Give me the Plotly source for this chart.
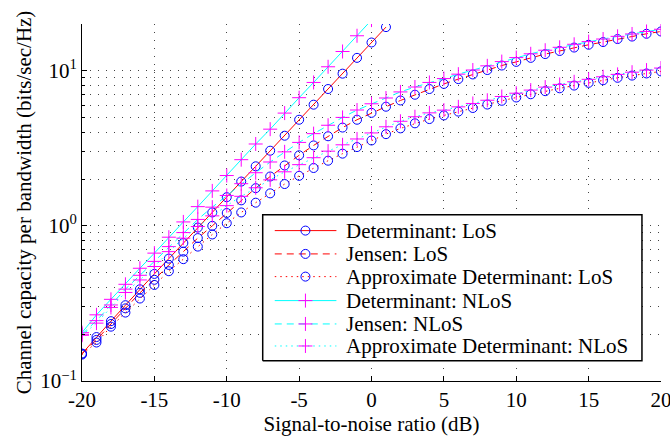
import plotly.graph_objects as go

snr_full = list(range(-20, 21))
snr_det_los = list(range(-20, 2))
snr_det_nlos = list(range(-20, 1))

det_los = [0.150, 0.192, 0.243, 0.308, 0.390, 0.490, 0.615, 0.775, 0.975, 1.22, 1.53,
           1.93, 2.42, 3.05, 3.81, 4.83, 6.04, 7.62, 9.57, 12.1, 15.2, 19.1]

jensen_los = [0.150, 0.184, 0.233, 0.294, 0.370, 0.449, 0.560, 0.682, 0.834, 1.00, 1.21,
              1.46, 1.75, 2.08, 2.45, 2.85, 3.30, 3.78, 4.30, 4.83, 5.35,
              5.86, 6.43, 7.00, 7.62, 8.22, 8.83, 9.46, 10.1, 10.8, 11.4,
              12.1, 12.8, 13.4, 14.1, 14.7, 15.3, 16.0, 16.6, 17.3, 17.9]

approx_los = [0.148, 0.177, 0.224, 0.276, 0.340, 0.416, 0.510, 0.610, 0.735, 0.880, 1.04,
              1.22, 1.41, 1.62, 1.86, 2.10, 2.36, 2.63, 2.92, 3.22, 3.55,
              3.90, 4.25, 4.58, 4.88, 5.15, 5.45, 5.75, 6.05, 6.40, 6.72,
              7.05, 7.38, 7.70, 8.02, 8.35, 8.68, 9.00, 9.30, 9.60, 9.90]

det_nlos = [0.205, 0.267, 0.336, 0.420, 0.533, 0.667, 0.845, 1.06, 1.33, 1.68, 2.11,
            2.67, 3.37, 4.20, 5.33, 6.70, 8.40, 10.6, 13.3, 16.8, 21.2]

jensen_nlos = [0.200, 0.245, 0.309, 0.391, 0.480, 0.590, 0.735, 0.905, 1.10, 1.32, 1.57,
               1.87, 2.20, 2.58, 3.00, 3.45, 3.93, 4.45, 5.00, 5.58, 6.12,
               6.67, 7.30, 7.85, 8.40, 8.90, 9.50, 10.1, 10.75, 11.45, 12.15,
               12.85, 13.55, 14.15, 14.8, 15.4, 16.0, 16.65, 17.25, 17.9, 18.5]

approx_nlos = [0.197, 0.236, 0.298, 0.372, 0.448, 0.547, 0.682, 0.833, 0.990, 1.16, 1.35,
               1.55, 1.76, 1.98, 2.23, 2.48, 2.75, 3.03, 3.33, 3.63, 3.97,
               4.35, 4.72, 5.05, 5.35, 5.57, 5.85, 6.15, 6.45, 6.82, 7.16,
               7.50, 7.84, 8.16, 8.48, 8.80, 9.14, 9.47, 9.78, 10.09, 10.40]

names = ["Determinant: LoS", "Jensen: LoS", "Approximate Determinant: LoS",
         "Determinant: NLoS", "Jensen: NLoS", "Approximate Determinant: NLoS"]

x_tickvals = [-20, -15, -10, -5, 0, 5, 10, 15, 20]
x_ticktext = ["-20", "-15", "-10", "-5", "0", "5", "10", "15", "20"]
y_tickvals = [0.1, 1, 10]
y_ticktext = ["10<sup>\u22121</sup>", "10<sup>0</sup>", "10<sup>1</sup>"]
y_minorvals = [0.2, 0.3, 0.4, 0.5, 0.6, 0.7, 0.8, 0.9,
               2, 3, 4, 5, 6, 7, 8, 9, 20]

FONT = "Liberation Serif"
RED = "#FF0000"
CYAN = "#00FFFF"
BLUE = "#0000FF"
MAG = "#FF00FF"
DASH = "7px,5px"
DOT = "1.5px,4px"

series = [
    (snr_det_los, det_los, RED, "solid", "circle-open", BLUE),
    (snr_full, jensen_los, RED, DASH, "circle-open", BLUE),
    (snr_full, approx_los, RED, DOT, "circle-open", BLUE),
    (snr_det_nlos, det_nlos, CYAN, "solid", "cross-thin-open", MAG),
    (snr_full, jensen_nlos, CYAN, DASH, "cross-thin-open", MAG),
    (snr_full, approx_nlos, CYAN, DOT, "cross-thin-open", MAG),
]

def marker_of(sym, mc):
    return dict(symbol=sym, size=9 if sym.startswith("circle") else 10,
                color=mc, line=dict(color=mc, width=1))

fig = go.Figure()
for name, (xs, ys, lc, dash, sym, mc) in zip(names, series):
    fig.add_trace(go.Scatter(
        x=xs, y=ys, name=name, mode="lines+markers", showlegend=False,
        line=dict(color=lc, width=1, dash=dash),
        marker=marker_of(sym, mc),
    ))

# ---- hand-drawn legend box (positions in plot-area fractions) ----
LG_L, LG_R, LG_B, LG_T = 0.3121, 0.9671, 0.0569, 0.4654
LG_ROWS = [0.4213, 0.3560, 0.2924, 0.2252, 0.1598, 0.0981]
LG_X0, LG_X1, LG_XM, LG_TX = 0.3329, 0.4394, 0.3859, 0.4520

fig.add_trace(go.Scatter(
    x=[LG_L, LG_R, LG_R, LG_L, LG_L], y=[LG_B, LG_B, LG_T, LG_T, LG_B],
    xaxis="x2", yaxis="y2", mode="lines", fill="toself", fillcolor="white",
    line=dict(color="black", width=1.5), showlegend=False, hoverinfo="skip",
))
for name, yr, (xs, ys, lc, dash, sym, mc) in zip(names, LG_ROWS, series):
    fig.add_trace(go.Scatter(
        x=[LG_X0, LG_X1], y=[yr, yr], xaxis="x2", yaxis="y2", mode="lines",
        line=dict(color=lc, width=1, dash=dash), showlegend=False, hoverinfo="skip",
    ))
    fig.add_trace(go.Scatter(
        x=[LG_XM], y=[yr], xaxis="x2", yaxis="y2", mode="markers",
        marker=marker_of(sym, mc), showlegend=False, hoverinfo="skip",
    ))
    fig.add_annotation(
        x=LG_TX, y=yr, xref="paper", yref="paper", text=name, showarrow=False,
        xanchor="left", yanchor="middle",
        font=dict(family=FONT, size=21, color="black"),
    )

grid_col = "#444444"
GD = "1px,7px"
fig.update_layout(
    width=670, height=436,
    margin=dict(l=81.5, r=9.3, t=24.3, b=55),
    paper_bgcolor="white", plot_bgcolor="white",
    font=dict(family=FONT, size=21, color="black"),
    showlegend=False,
    xaxis=dict(
        range=[-20, 20], tickvals=x_tickvals, ticktext=x_ticktext,
        showline=True, linecolor="black", linewidth=1,
        ticks="inside", ticklen=5, tickcolor="black",
        ticklabeloverflow="allow", automargin=False,
        tickfont=dict(family=FONT, size=21),
        showgrid=True, gridcolor=grid_col, gridwidth=1, griddash=GD,
        zeroline=False, mirror=False,
        title=dict(text="Signal-to-noise ratio (dB)", standoff=4,
                   font=dict(family=FONT, size=21)),
    ),
    yaxis=dict(
        type="log", range=[-1, 1.30103], tickvals=y_tickvals, ticktext=y_ticktext,
        showline=True, linecolor="black", linewidth=1,
        ticks="inside", ticklen=5, tickcolor="black", automargin=False,
        tickfont=dict(family=FONT, size=21),
        showgrid=True, gridcolor=grid_col, gridwidth=1, griddash=GD,
        zeroline=False, mirror=False,
        minor=dict(tickmode="array", tickvals=y_minorvals,
                   ticks="inside", ticklen=3, tickcolor="black",
                   showgrid=True, gridcolor=grid_col, gridwidth=1, griddash=GD),
        title=dict(text="Channel capacity per bandwidth (bits/sec/Hz)", standoff=2,
                   font=dict(family=FONT, size=21)),
    ),
    xaxis2=dict(overlaying="x", anchor="y2", domain=[0, 1], range=[0, 1],
                autorange=False, visible=False, fixedrange=True),
    yaxis2=dict(overlaying="y", anchor="x2", domain=[0, 1], range=[0, 1],
                autorange=False, visible=False, fixedrange=True),
)

fig.write_html("out.html")
